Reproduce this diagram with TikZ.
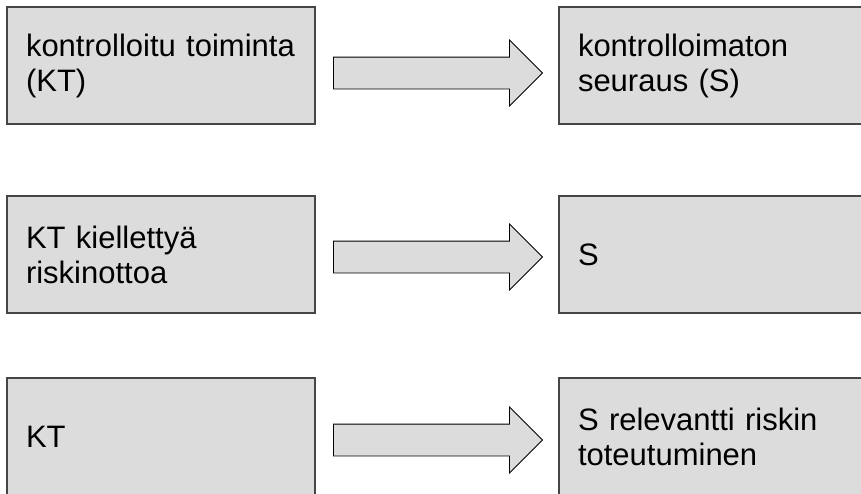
\documentclass[tikz,border=0pt]{standalone}
\usepackage{fontspec}
\setmainfont{Liberation Sans}
\usetikzlibrary{positioning, shapes.arrows}
\definecolor{boxfill}{RGB}{220,220,220}
\definecolor{boxedge}{RGB}{70,70,70}

\begin{document}
\begin{tikzpicture}[x=1pt, y=-1pt,
  caseBox/.style={draw=boxedge, line width=1.4pt, fill=boxfill,
    minimum width=308pt, minimum height=117pt, text width=270pt,
    inner xsep=19pt, align=left, font=\fontsize{31}{35}\selectfont},
  fatArrow/.style={single arrow, draw=black, line width=0.9pt, fill=boxfill,
    minimum height=209pt, inner ysep=15.5pt, inner xsep=0pt,
    single arrow head extend=17pt, xshift=-7pt}]
  \useasboundingbox (0,0) rectangle (861,493);
  \clip (0,0) rectangle (861,493);

  % row 1
  \node[caseBox] (kt1) at (161,65.5) {kontrolloitu~toiminta\\(KT)};
  \node[caseBox] (s1) at (713,65.5) {kontrolloimaton\\seuraus (S)};
  \path (kt1) -- node[fatArrow, yshift=-7.5pt] (ar1) {} (s1);

  % row 2
  \node[caseBox] (kt2) at (161,254.5) {KT kiellettyä\\riskinottoa};
  \node[caseBox] (s2) at (713,254.5) {S};
  \path (kt2) -- node[fatArrow, yshift=-2.5pt] (ar2) {} (s2);

  % row 3
  \node[caseBox] (kt3) at (161,436.5) {KT};
  \node[caseBox] (s3) at (713,436.5) {S relevantti riskin\\toteutuminen};
  \path (kt3) -- node[fatArrow, yshift=-3.5pt] (ar3) {} (s3);
\end{tikzpicture}
\end{document}
